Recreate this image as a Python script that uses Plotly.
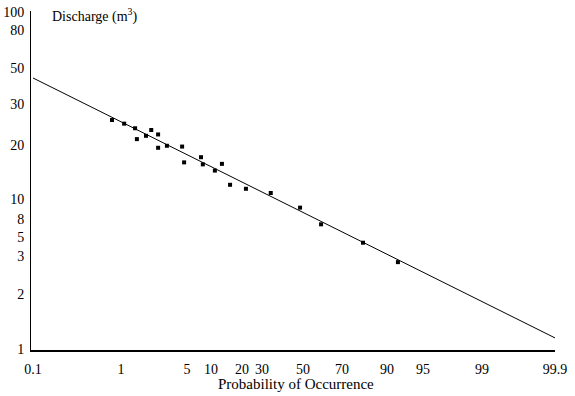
import numpy as np
import plotly.graph_objects as go
from statistics import NormalDist

# ---------------- data ----------------
PROB_TICKS = [0.1, 1, 5, 10, 20, 30, 50, 70, 90, 95, 99, 99.9]
PROB_TICK_TEXT = ["0.1", "1", "5", "10", "20", "30", "50", "70", "90", "95", "99", "99.9"]
Q_TICKS = [1, 2, 3, 5, 8, 10, 20, 30, 50, 80, 100]
Q_TICK_TEXT = ["1", "2", "3", "5", "8", "10", "20", "30", "50", "80", "100"]

obs_prob = [0.81, 1.09, 1.46, 1.53, 1.93, 2.2, 2.6, 2.6, 3.2, 4.5, 4.7,
            7.6, 8.0, 13, 11, 15.6, 21.8, 34, 48.5, 59.6, 81, 91.8]
obs_discharge = [25.6, 24.7, 23.6, 21.2, 21.9, 23.2, 22.2, 19.3, 19.8, 19.6, 16.0,
                 17.1, 15.6, 15.7, 14.4, 12.0, 11.4, 10.8, 9.08, 6.96, 4.29, 2.81]

fit_prob = [0.1, 99.9]
fit_discharge = [43.4, 1.15]

# ---------------- probability-paper scale (layout of the printed grid) ----------------
X_PAPER_POS = [0, 88, 154, 178, 209, 229, 270, 309, 354, 390, 449, 522]
Y_PAPER_POS = [0, 55, 93, 112, 130, 150, 204, 245, 281, 319, 337]

_nd = NormalDist()
_zt = np.array([_nd.inv_cdf(p / 100) for p in PROB_TICKS])
_lt = np.log10(np.array(Q_TICKS, dtype=float))


def xs(p):
    z = np.array([_nd.inv_cdf(v / 100) for v in p])
    return np.interp(z, _zt, X_PAPER_POS)


def ys(q):
    return np.interp(np.log10(np.array(q, dtype=float)), _lt, Y_PAPER_POS)


serif = "Liberation Serif, Times New Roman, serif"

fig = go.Figure()
fig.add_trace(go.Scatter(x=xs(fit_prob), y=ys(fit_discharge), mode="lines",
                         line=dict(color="black", width=1), showlegend=False))
fig.add_trace(go.Scatter(x=xs(obs_prob), y=ys(obs_discharge), mode="markers",
                         marker=dict(color="black", size=4, symbol="square"),
                         showlegend=False))

fig.update_layout(
    width=575, height=396,
    margin=dict(l=31, r=20, t=11, b=46, autoexpand=False),
    paper_bgcolor="white", plot_bgcolor="white",
    font=dict(family=serif, size=14, color="black"),
    xaxis=dict(range=[-2, 522], tickvals=X_PAPER_POS, ticktext=PROB_TICK_TEXT,
               showgrid=False, zeroline=False, showline=True, linecolor="black",
               linewidth=2, ticks="", ticklabelstandoff=5, automargin=False,
               tickfont=dict(family=serif, size=14)),
    yaxis=dict(range=[-1, 338], tickvals=Y_PAPER_POS, ticktext=Q_TICK_TEXT,
               showgrid=False, zeroline=False, showline=True, linecolor="black",
               linewidth=1, ticks="", ticklabelstandoff=3, automargin=False,
               tickfont=dict(family=serif, size=14)),
    annotations=[
        dict(text="Discharge (m<sup>3</sup>)", xref="paper", yref="paper",
             x=0.036, y=1.02, xanchor="left", yanchor="top", showarrow=False,
             font=dict(family=serif, size=14)),
        dict(text="Probability of Occurrence", xref="paper", yref="paper",
             x=0.506, y=-0.1, xanchor="center", yanchor="middle", showarrow=False,
             font=dict(family=serif, size=15)),
    ],
)

fig.write_html("out.html", config={"displayModeBar": False},
               post_script="document.body.style.margin='0';")
